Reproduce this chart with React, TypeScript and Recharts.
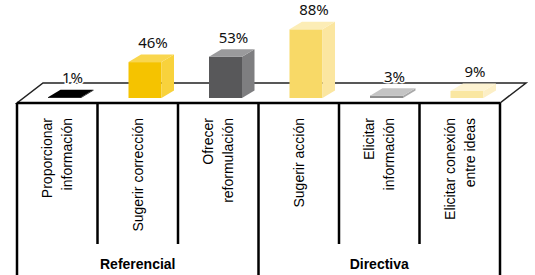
import React from 'react';
import { BarChart, Bar, XAxis, YAxis, LabelList } from 'recharts';

const categories = [
  'Proporcionar información',
  'Sugerir corrección',
  'Ofrecer reformulación',
  'Sugerir acción',
  'Elicitar información',
  'Elicitar conexión entre ideas',
];
const values = [1, 46, 53, 88, 3, 9];
const labelLines = [
  ['Proporcionar', 'información'],
  ['Sugerir corrección'],
  ['Ofrecer', 'reformulación'],
  ['Sugerir acción'],
  ['Elicitar', 'información'],
  ['Elicitar conexión', 'entre ideas'],
];
const groups = ['Referencial', 'Directiva'];
const frontColors = ['#000000', '#F5C300', '#58585A', '#F8D967', '#8E8E8E', '#FAE7A2'];
const sideColors = ['#111111', '#F8D23C', '#7E7E80', '#FBE6A0', '#A9A9A9', '#FCEFC6'];
const topColors = ['#000000', '#F9D64E', '#9A9A9C', '#FCEDB6', '#C4C4C4', '#FDF3D2'];

const data = categories.map((name, i) => ({ name, value: values[i] }));

// size and 3d look
const W = 535;
const H = 275;
const LEFT = 17;
const RIGHT = 35;
const TOP = 20;
const BASE = 98; // bottom of the plot
const DX = 12.5;
const DY = 7.5;
const SHIFT = 7; // bars sit a bit back on the floor

function Box(props: any) {
  const { x, y, width, height, index } = props;
  const bottom = y + height;
  const h = Math.max(height, 0.8);
  const top = bottom - h;
  const sx = x + SHIFT;
  const i = index ?? 0;
  return (
    <g>
      <rect x={sx} y={top} width={width} height={h} fill={frontColors[i]} />
      <polygon
        points={`${sx + width},${top} ${sx + width + DX},${top - DY} ${sx + width + DX},${bottom - DY} ${sx + width},${bottom}`}
        fill={sideColors[i]}
      />
      <polygon
        points={`${sx},${top} ${sx + DX},${top - DY} ${sx + width + DX},${top - DY} ${sx + width},${top}`}
        fill={topColors[i]}
      />
    </g>
  );
}

function ValueLabel(props: any) {
  const { x, y, width, height, value } = props;
  const bottom = y + height;
  const top = bottom - Math.max(height, 0.8);
  return (
    <text
      x={x + SHIFT + width / 2 + 8}
      y={top - DY - 6.5}
      textAnchor="middle"
      fontFamily="Noto Sans"
      fontSize={15}
      fill="#111"
      stroke="#fff"
      strokeWidth={3}
      paintOrder="stroke"
    >
      {`${value}%`}
    </text>
  );
}

function CategoryTick(props: any) {
  const { x, payload } = props;
  const lines = labelLines[payload.index] || [payload.value];
  const n = lines.length;
  return (
    <g>
      {lines.map((line, j) => {
        const bx = x + 5 + (j - (n - 1) / 2) * 20;
        return (
          <text
            key={j}
            x={bx}
            y={118}
            transform={`rotate(-90 ${bx} 118)`}
            textAnchor="end"
            fontFamily="Liberation Sans, Arial"
            fontSize={14}
            fill="#000"
          >
            {line}
          </text>
        );
      })}
    </g>
  );
}

function Floor() {
  const x0 = LEFT;
  const x1 = W - RIGHT;
  const front = 103;
  const back = 83;
  const skew = 26;
  const step = (x1 - x0) / categories.length;
  const dividers = categories.map((_, i) => x0 + step * i).concat([x1]);
  const half = categories.length / 2;
  return (
    <g>
      <polygon
        points={`${x0},${front} ${x1},${front} ${x1 + skew},${back} ${x0 + skew},${back}`}
        fill="#fff"
        stroke="#222"
        strokeWidth={1.5}
      />
      <line x1={x0} y1={front} x2={x1} y2={front} stroke="#000" strokeWidth={2.5} />
      {dividers.map((dx, i) => (
        <line
          key={i}
          x1={dx}
          y1={front}
          x2={dx}
          y2={i % half === 0 ? H : 244}
          stroke="#000"
          strokeWidth={2.5}
        />
      ))}
      {groups.map((g, i) => (
        <text
          key={g}
          x={x0 + step * half * (i + 0.5)}
          y={269}
          textAnchor="middle"
          fontFamily="Liberation Sans, Arial"
          fontWeight="bold"
          fontSize={14}
          fill="#000"
        >
          {g}
        </text>
      ))}
    </g>
  );
}

export default function App() {
  return (
    <div style={{ width: W, height: H, background: '#fff' }}>
      <style>{'body{margin:0}'}</style>
      <BarChart
        width={W}
        height={H}
        data={data}
        margin={{ top: TOP, right: RIGHT, left: LEFT, bottom: 0 }}
        barSize={33}
      >
        <Floor />
        <XAxis
          dataKey="name"
          interval={0}
          tick={<CategoryTick />}
          tickLine={false}
          axisLine={false}
          height={H - BASE}
        />
        <YAxis hide domain={[0, 100]} />
        <Bar dataKey="value" shape={<Box />} isAnimationActive={false}>
          <LabelList dataKey="value" content={<ValueLabel />} />
        </Bar>
      </BarChart>
    </div>
  );
}
